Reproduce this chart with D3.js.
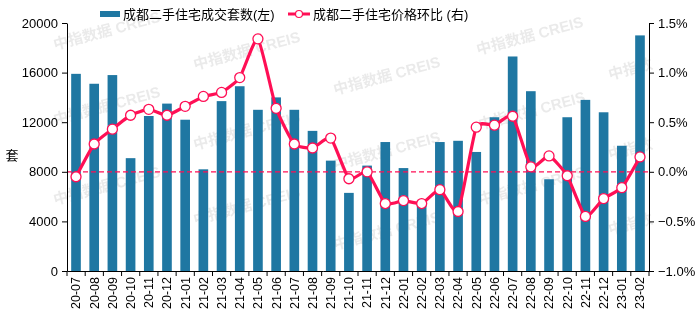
<!DOCTYPE html>
<html>
<head>
<meta charset="utf-8">
<script src="https://cdn.jsdelivr.net/npm/d3@7"></script>
<style>
  body { margin: 0; background: #fff; }
  text { font-family: "Liberation Sans", Arial, "Noto Sans CJK SC", sans-serif; }
</style>
</head>
<body>
<script>
// months, 2020-07 .. 2023-02
const months = ["20-07","20-08","20-09","20-10","20-11","20-12","21-01","21-02","21-03","21-04","21-05","21-06",
  "21-07","21-08","21-09","21-10","21-11","21-12","22-01","22-02","22-03","22-04","22-05","22-06",
  "22-07","22-08","22-09","22-10","22-11","22-12","23-01","23-02"];
// second-hand housing deals (units)
const deals = [15900,15100,15800,9100,12500,13500,12200,8200,13700,14900,13000,14000,
  13000,11300,8900,6300,8500,10400,8300,5400,10400,10500,9600,12400,
  17300,14500,7400,12400,13800,12800,10100,19000];
// month-on-month price change (%)
const priceMoM = [-0.05,0.28,0.43,0.57,0.63,0.57,0.66,0.76,0.80,0.95,1.34,0.64,
  0.28,0.24,0.34,-0.07,0.00,-0.32,-0.29,-0.32,-0.18,-0.40,0.45,0.47,
  0.56,0.05,0.16,-0.04,-0.45,-0.27,-0.16,0.15];
const leftTicks = [0,4000,8000,12000,16000,20000];
const rightTicks = [-1.0,-0.5,0,0.5,1.0,1.5];

const W = 700, H = 321;
const m = {top: 23, right: 51, bottom: 50, left: 67};
const blue = "#1f77a2", pink = "#ff0f55";

const svg = d3.select("body").append("svg")
  .attr("width", W).attr("height", H);

// watermark
const wmPos = [[55,50],[195,70],[335,95],[478,55],[55,125],[195,150],[335,170],[480,130],[610,80],
  [55,205],[195,225],[335,250],[480,205],[610,160],[610,235]];
const wm = svg.append("g").attr("fill", "#c4c4c4").attr("opacity", 0.35)
  .style("font-size", "15px").style("font-weight", "bold");
wmPos.forEach(([px, py]) => {
  wm.append("text").attr("transform", `translate(${px},${py}) rotate(-15)`)
    .text(px > 600 ? "中指数" : "中指数据 CREIS");
});

const x = d3.scaleBand().domain(months)
  .range([m.left, W - m.right]).paddingInner(0.47).paddingOuter(0.23);
const yL = d3.scaleLinear().domain([0, 20000]).range([H - m.bottom, m.top]);
const yR = d3.scaleLinear().domain([-1.0, 1.5]).range([H - m.bottom, m.top]);

// bars
svg.append("g").selectAll("rect").data(deals).join("rect")
  .attr("x", (d, i) => x(months[i]))
  .attr("y", d => yL(d))
  .attr("width", x.bandwidth())
  .attr("height", d => yL(0) - yL(d))
  .attr("fill", blue);

// zero line of the right axis
svg.append("line")
  .attr("x1", m.left).attr("x2", W - m.right)
  .attr("y1", yR(0)).attr("y2", yR(0))
  .attr("stroke", pink).attr("stroke-width", 1.2)
  .attr("stroke-dasharray", "5,3");

// price line
const cx = i => x(months[i]) + x.bandwidth() / 2;
const line = d3.line().x((d, i) => cx(i)).y(d => yR(d)).curve(d3.curveCardinal.tension(0.5));
svg.append("path").datum(priceMoM)
  .attr("d", line).attr("fill", "none")
  .attr("stroke", pink).attr("stroke-width", 3.2);
svg.append("g").selectAll("circle").data(priceMoM).join("circle")
  .attr("cx", (d, i) => cx(i)).attr("cy", d => yR(d)).attr("r", 5)
  .attr("fill", "#fff").attr("stroke", pink).attr("stroke-width", 1.3);

// axes
const axisFont = g => g.selectAll("text").style("font-size", "13px").attr("fill", "#000");
const axL = svg.append("g").attr("transform", `translate(${m.left},0)`)
  .call(d3.axisLeft(yL).tickValues(leftTicks).tickSize(5).tickPadding(4).tickSizeOuter(0)
    .tickFormat(d3.format("d")));
axL.call(axisFont);
const axR = svg.append("g").attr("transform", `translate(${W - m.right},0)`)
  .call(d3.axisRight(yR).tickValues(rightTicks).tickSize(5).tickPadding(4).tickSizeOuter(0)
    .tickFormat(d => d3.format(".1f")(d) + "%"));
axR.call(axisFont);

const axB = svg.append("g").attr("transform", `translate(0,${H - m.bottom})`)
  .call(d3.axisBottom(x).tickSize(0).tickSizeOuter(0));
axB.selectAll("text")
  .attr("transform", "rotate(-90)")
  .attr("x", -6).attr("y", 0).attr("dy", "0.35em")
  .style("text-anchor", "end").style("font-size", "12.5px").attr("fill", "#000");
// ticks at month boundaries
const plotW = W - m.left - m.right;
axB.append("g").selectAll("line").data(d3.range(months.length + 1)).join("line")
  .attr("x1", i => m.left + i * plotW / months.length)
  .attr("x2", i => m.left + i * plotW / months.length)
  .attr("y1", 0).attr("y2", 5).attr("stroke", "#000");
[axL, axR, axB].forEach(a => a.select(".domain").attr("stroke", "#000"));

// y axis title
svg.append("text").attr("x", 12).attr("y", 160)
  .attr("text-anchor", "middle").style("font-size", "13px").text("套");

// legend
const lg = svg.append("g").style("font-size", "13px");
lg.append("rect").attr("x", 100).attr("y", 11).attr("width", 20).attr("height", 6).attr("fill", blue);
lg.append("text").attr("x", 123).attr("y", 19).text("成都二手住宅成交套数(左)");
lg.append("line").attr("x1", 288).attr("x2", 310).attr("y1", 14).attr("y2", 14)
  .attr("stroke", pink).attr("stroke-width", 3);
lg.append("circle").attr("cx", 299).attr("cy", 14).attr("r", 3.5)
  .attr("fill", "#fff").attr("stroke", pink).attr("stroke-width", 1.2);
lg.append("text").attr("x", 313).attr("y", 19).text("成都二手住宅价格环比 (右)");
</script>
</body>
</html>
